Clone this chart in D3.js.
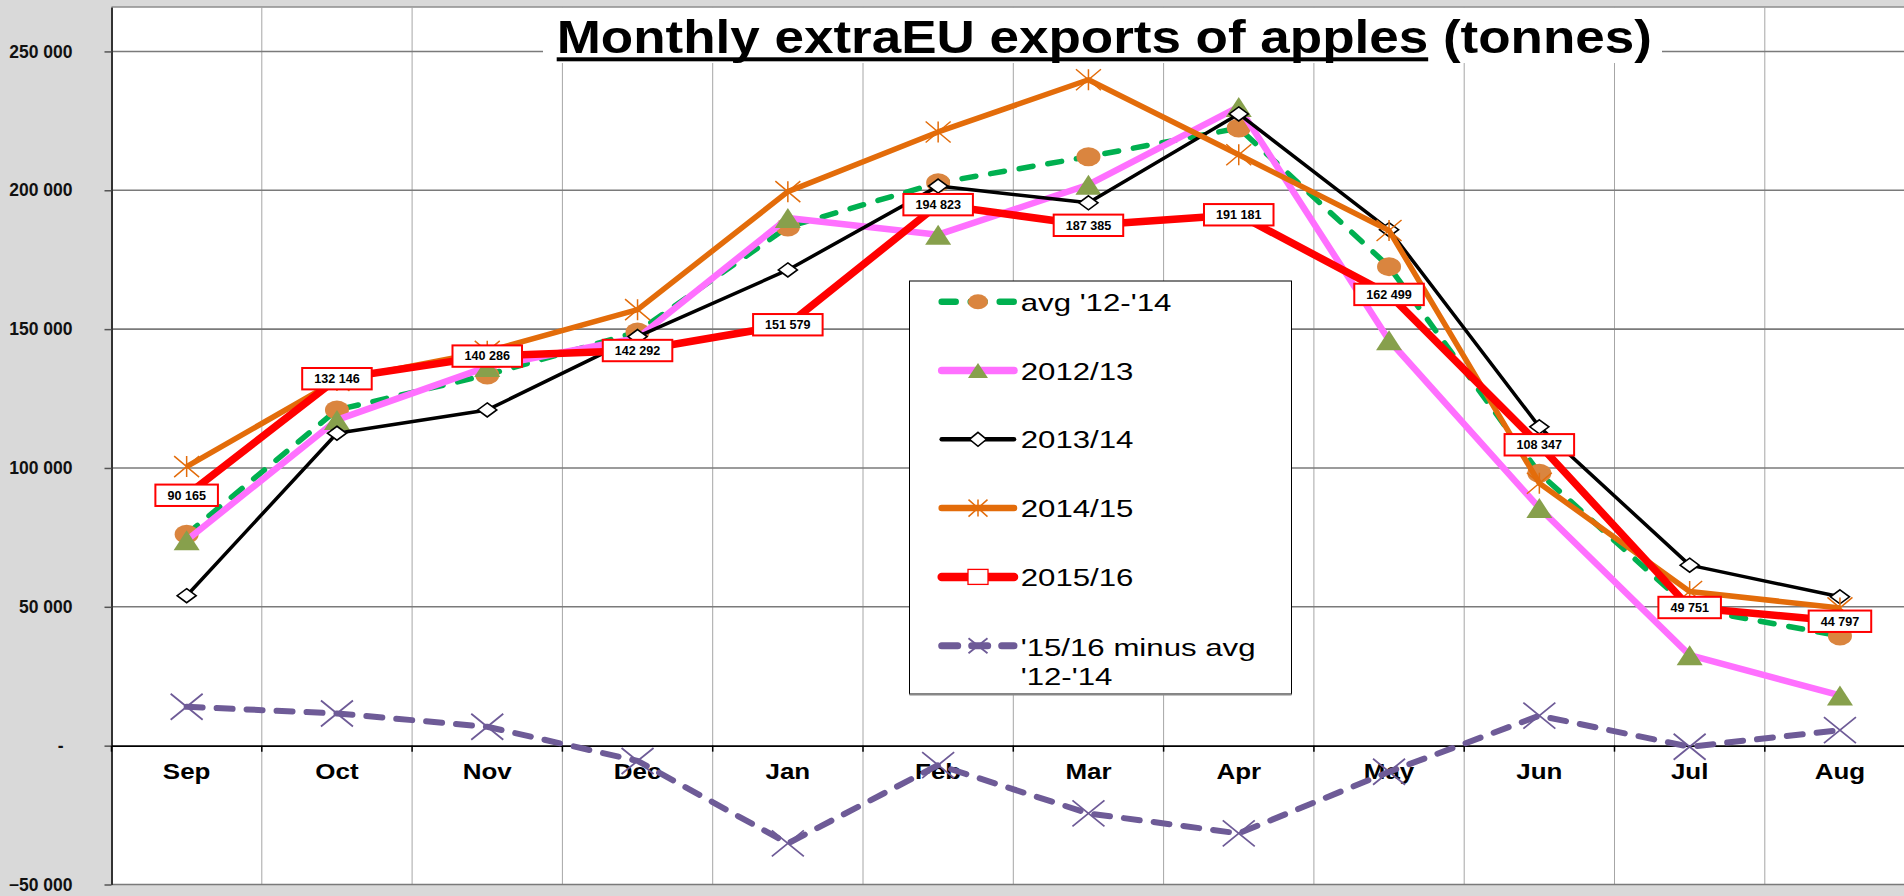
<!DOCTYPE html>
<html>
<head>
<meta charset="utf-8">
<script src="https://cdn.jsdelivr.net/npm/d3@7"></script>
<style>
body { margin: 0; background: #d9d9d9; overflow: hidden; }
svg { display: block; font-family: Arial, "Liberation Sans", sans-serif; }
</style>
</head>
<body>
<svg width="1904" height="896"></svg>
<script>
// data (tonnes)
var months = ["Sep", "Oct", "Nov", "Dec", "Jan", "Feb", "Mar", "Apr", "May", "Jun", "Jul", "Aug"];
var avg1214 = [76100, 120900, 133500, 149000, 186800, 202700, 212100, 222400, 172500, 98100, 49500, 39500];
var y1213 = [74000, 117300, 136400, 146800, 190000, 184000, 202000, 230000, 146000, 85600, 32600, 18100];
var y1314 = [54000, 112500, 120900, 147300, 171300, 201500, 195500, 227500, 185800, 114800, 65000, 53600];
var y1415 = [100500, 131500, 142000, 157000, 199500, 221000, 239800, 212800, 185500, 94500, 55500, 49600];
var y1516 = [90165, 132146, 140286, 142292, 151579, 194823, 187385, 191181, 162499, 108347, 49751, 44797];
var diff = [14000, 11600, 6800, -5500, -35200, -7000, -24400, -31600, -9400, 10800, -400, 5600];
var yTicks = [-50000, 0, 50000, 100000, 150000, 200000, 250000];
var legendNames = ["avg '12-'14", "2012/13", "2013/14", "2014/15", "2015/16", "'15/16 minus avg", "'12-'14"];

var svg = d3.select("svg");
var plotLeft = 111.5;
var plotTop = 7;
var plotBottom = 884.5;
var step = 150.3;

var x = d3.scaleBand().domain(months).range([plotLeft, plotLeft + 12 * step]);
var y = d3.scaleLinear().domain([-50000, 266000]).range([plotBottom, plotTop]);

var loc = d3.formatLocale({ decimal: ".", thousands: " ", grouping: [3], currency: ["", ""] });
var fmt = loc.format(",.0f");

function cx(i) { return x(months[i]) + x.bandwidth() / 2; }

// background + plot area
svg.append("rect").attr("width", 1904).attr("height", 896).attr("fill", "#d9d9d9");
svg.append("rect")
    .attr("x", plotLeft).attr("y", plotTop)
    .attr("width", 1904 - plotLeft).attr("height", plotBottom - plotTop)
    .attr("fill", "#fff");
svg.append("line")
    .attr("x1", plotLeft).attr("x2", 1904).attr("y1", plotTop).attr("y2", plotTop)
    .attr("stroke", "#8c8c8c").attr("stroke-width", 1.5);

// vertical gridlines at the band edges
var edges = d3.range(1, 13).map(function (i) { return plotLeft + i * step; });
svg.append("g").selectAll("line").data(edges).enter().append("line")
    .attr("x1", function (d) { return d; }).attr("x2", function (d) { return d; })
    .attr("y1", plotTop).attr("y2", plotBottom)
    .attr("stroke", "#a6a6a6").attr("stroke-width", 1);

// horizontal gridlines
svg.append("g").selectAll("line").data(yTicks.filter(function (d) { return d !== 0; })).enter().append("line")
    .attr("x1", plotLeft).attr("x2", 1904)
    .attr("y1", function (d) { return y(d); }).attr("y2", function (d) { return y(d); })
    .attr("stroke", "#7a7a7a").attr("stroke-width", 1.6);

// title box hides the grid behind it
svg.append("rect").attr("x", 543).attr("y", plotTop + 1).attr("width", 1119).attr("height", 55).attr("fill", "#fff");

// y axis
var yAxis = svg.append("g")
    .attr("transform", "translate(" + plotLeft + ",0)")
    .call(d3.axisLeft(y).tickValues(yTicks).tickSize(7).tickSizeOuter(0).tickPadding(32)
        .tickFormat(function (d) { return d === 0 ? "-" : fmt(d); }));
yAxis.select(".domain").attr("stroke", "#333").attr("stroke-width", 2);
yAxis.selectAll(".tick line").attr("stroke", "#555").attr("stroke-width", 1.5);
yAxis.selectAll(".tick text")
    .attr("font-family", "Arial, 'Liberation Sans', sans-serif")
    .attr("font-size", 17.5).attr("font-weight", "bold").attr("fill", "#111");
yAxis.selectAll(".tick text").filter(function (d) { return d === 0; }).attr("x", -48);

// x axis on the zero line
var y0 = y(0);
var xAxis = svg.append("g")
    .attr("transform", "translate(0," + y0 + ")")
    .call(d3.axisBottom(x).tickSize(0).tickSizeOuter(0).tickPadding(18));
xAxis.select(".domain").attr("stroke", "#000").attr("stroke-width", 1.6);
xAxis.selectAll(".tick text")
    .attr("font-family", "Arial, 'Liberation Sans', sans-serif")
    .attr("font-size", 22).attr("font-weight", "bold").attr("fill", "#000")
    .attr("transform", "scale(1.18,1)");
xAxis.selectAll("line.edge").data([plotLeft].concat(edges)).enter().append("line")
    .attr("class", "edge")
    .attr("x1", function (d) { return d; }).attr("x2", function (d) { return d; })
    .attr("y1", 0).attr("y2", 6)
    .attr("stroke", "#000").attr("stroke-width", 1.5);

// markers
function marker(g, type, w, h) {
    if (type === "circle") {
        g.append("ellipse").attr("rx", w / 2).attr("ry", h / 2).attr("fill", "#da853f");
    } else if (type === "triangle") {
        g.append("path").attr("d", "M0," + (-h / 2) + "L" + (w / 2) + "," + (h / 2) + "L" + (-w / 2) + "," + (h / 2) + "Z")
            .attr("fill", "#87a04c");
    } else if (type === "diamond") {
        g.append("path").attr("d", "M0," + (-h / 2) + "L" + (w / 2) + ",0L0," + (h / 2) + "L" + (-w / 2) + ",0Z")
            .attr("fill", "#fff").attr("stroke", "#000").attr("stroke-width", 1.6);
    } else if (type === "star") {
        g.append("path").attr("d", "M0," + (-h / 2) + "V" + (h / 2) +
            "M" + (-w / 2) + "," + (-h / 2) + "L" + (w / 2) + "," + (h / 2) +
            "M" + (w / 2) + "," + (-h / 2) + "L" + (-w / 2) + "," + (h / 2))
            .attr("fill", "none").attr("stroke", "#e36c0a").attr("stroke-width", 1.5);
    } else if (type === "square") {
        g.append("rect").attr("x", -w / 2).attr("y", -h / 2).attr("width", w).attr("height", h)
            .attr("fill", "#fff").attr("stroke", "#ff0000").attr("stroke-width", 1.3);
    } else if (type === "x") {
        g.append("path").attr("d", "M" + (-w / 2) + "," + (-h / 2) + "L" + (w / 2) + "," + (h / 2) +
            "M" + (w / 2) + "," + (-h / 2) + "L" + (-w / 2) + "," + (h / 2))
            .attr("fill", "none").attr("stroke", "#6e5b97").attr("stroke-width", 1.8);
    }
}

var series = [
    { values: avg1214, color: "#00b050", width: 5.5, dash: "14,15", mark: "circle", mw: 24, mh: 19, lw: 20, lh: 15 },
    { values: y1213, color: "#ff70ff", width: 6.5, dash: null, mark: "triangle", mw: 26, mh: 20, lw: 20, lh: 15 },
    { values: y1314, color: "#000000", width: 3.5, dash: null, mark: "diamond", mw: 19, mh: 14, lw: 17, lh: 14 },
    { values: y1415, color: "#e36c0a", width: 5.5, dash: null, mark: "star", mw: 25, mh: 21, lw: 19, lh: 17 },
    { values: y1516, color: "#ff0000", width: 7.5, dash: null, mark: "square", mw: 20, mh: 15, lw: 20, lh: 15 },
    { values: diff, color: "#6e5b97", width: 6, dash: "16,14", mark: "x", mw: 32, mh: 26, lw: 19, lh: 15 }
];

var line = d3.line()
    .x(function (d, i) { return cx(i); })
    .y(function (d) { return y(d); });

series.forEach(function (s) {
    var g = svg.append("g");
    g.append("path").datum(s.values)
        .attr("d", line)
        .attr("fill", "none")
        .attr("stroke", s.color)
        .attr("stroke-width", s.width)
        .attr("stroke-linejoin", "round")
        .attr("stroke-linecap", s.dash ? "round" : "butt")
        .attr("stroke-dasharray", s.dash);
    g.selectAll("g.m").data(s.values).enter().append("g")
        .attr("class", "m")
        .attr("transform", function (d, i) { return "translate(" + cx(i) + "," + y(d) + ")"; })
        .each(function () { marker(d3.select(this), s.mark, s.mw, s.mh); });
});

// data labels for 2015/16
var labels = svg.append("g").selectAll("g").data(y1516).enter().append("g")
    .attr("transform", function (d, i) { return "translate(" + cx(i) + "," + y(d) + ")"; });
labels.each(function (d) {
    var g = d3.select(this);
    var box = g.append("rect").attr("fill", "#fff").attr("stroke", "#ff0000").attr("stroke-width", 2);
    var t = g.append("text")
        .attr("text-anchor", "middle").attr("y", 4.3)
        .attr("font-size", 12).attr("font-weight", "bold").attr("fill", "#000")
        .attr("transform", "scale(1.05,1)")
        .text(fmt(d));
    var w = t.node().getComputedTextLength() * 1.05 + 24;
    box.attr("x", -w / 2).attr("y", -10.7).attr("width", w).attr("height", 21.4);
});

// title
var title = svg.append("g").attr("transform", "translate(556.7,53.3) scale(1.165,1)");
var tt = title.append("text").attr("font-size", 45.5).attr("font-weight", "bold").attr("fill", "#000")
    .style("white-space", "pre");
var under = tt.append("tspan").text("Monthly extraEU exports of apples");
tt.append("tspan").text(" (tonnes)");
title.append("rect").attr("x", 0).attr("y", 4).attr("height", 4)
    .attr("width", under.node().getComputedTextLength()).attr("fill", "#000");

// legend
var lg = svg.append("g");
lg.append("rect").attr("x", 909.5).attr("y", 281).attr("width", 382).attr("height", 413)
    .attr("fill", "#fff").attr("stroke", "#000").attr("stroke-width", 1);
lg.append("line").attr("x1", 909.5).attr("x2", 1291.5).attr("y1", 694.5).attr("y2", 694.5)
    .attr("stroke", "#888").attr("stroke-width", 2);
series.forEach(function (s, i) {
    var ry = 301.7 + i * 68.8;
    lg.append("line").attr("x1", 941.7).attr("x2", 1014).attr("y1", ry).attr("y2", ry)
        .attr("stroke", s.color).attr("stroke-width", s.width + 1)
        .attr("stroke-linecap", "round")
        .attr("stroke-dasharray", s.dash);
    var m = lg.append("g").attr("transform", "translate(978," + ry + ")");
    marker(m, s.mark, s.lw, s.lh);
    var tg = lg.append("g").attr("transform", "translate(1020.7," + (ry + (i === 5 ? 10.3 : 9)) + ") scale(1.3,1)");
    tg.append("text").attr("font-size", 24).attr("fill", "#000").text(legendNames[i]);
    if (i === 5) {
        tg.append("text").attr("font-size", 24).attr("fill", "#000").attr("y", 29).text(legendNames[6]);
    }
});
</script>
</body>
</html>
